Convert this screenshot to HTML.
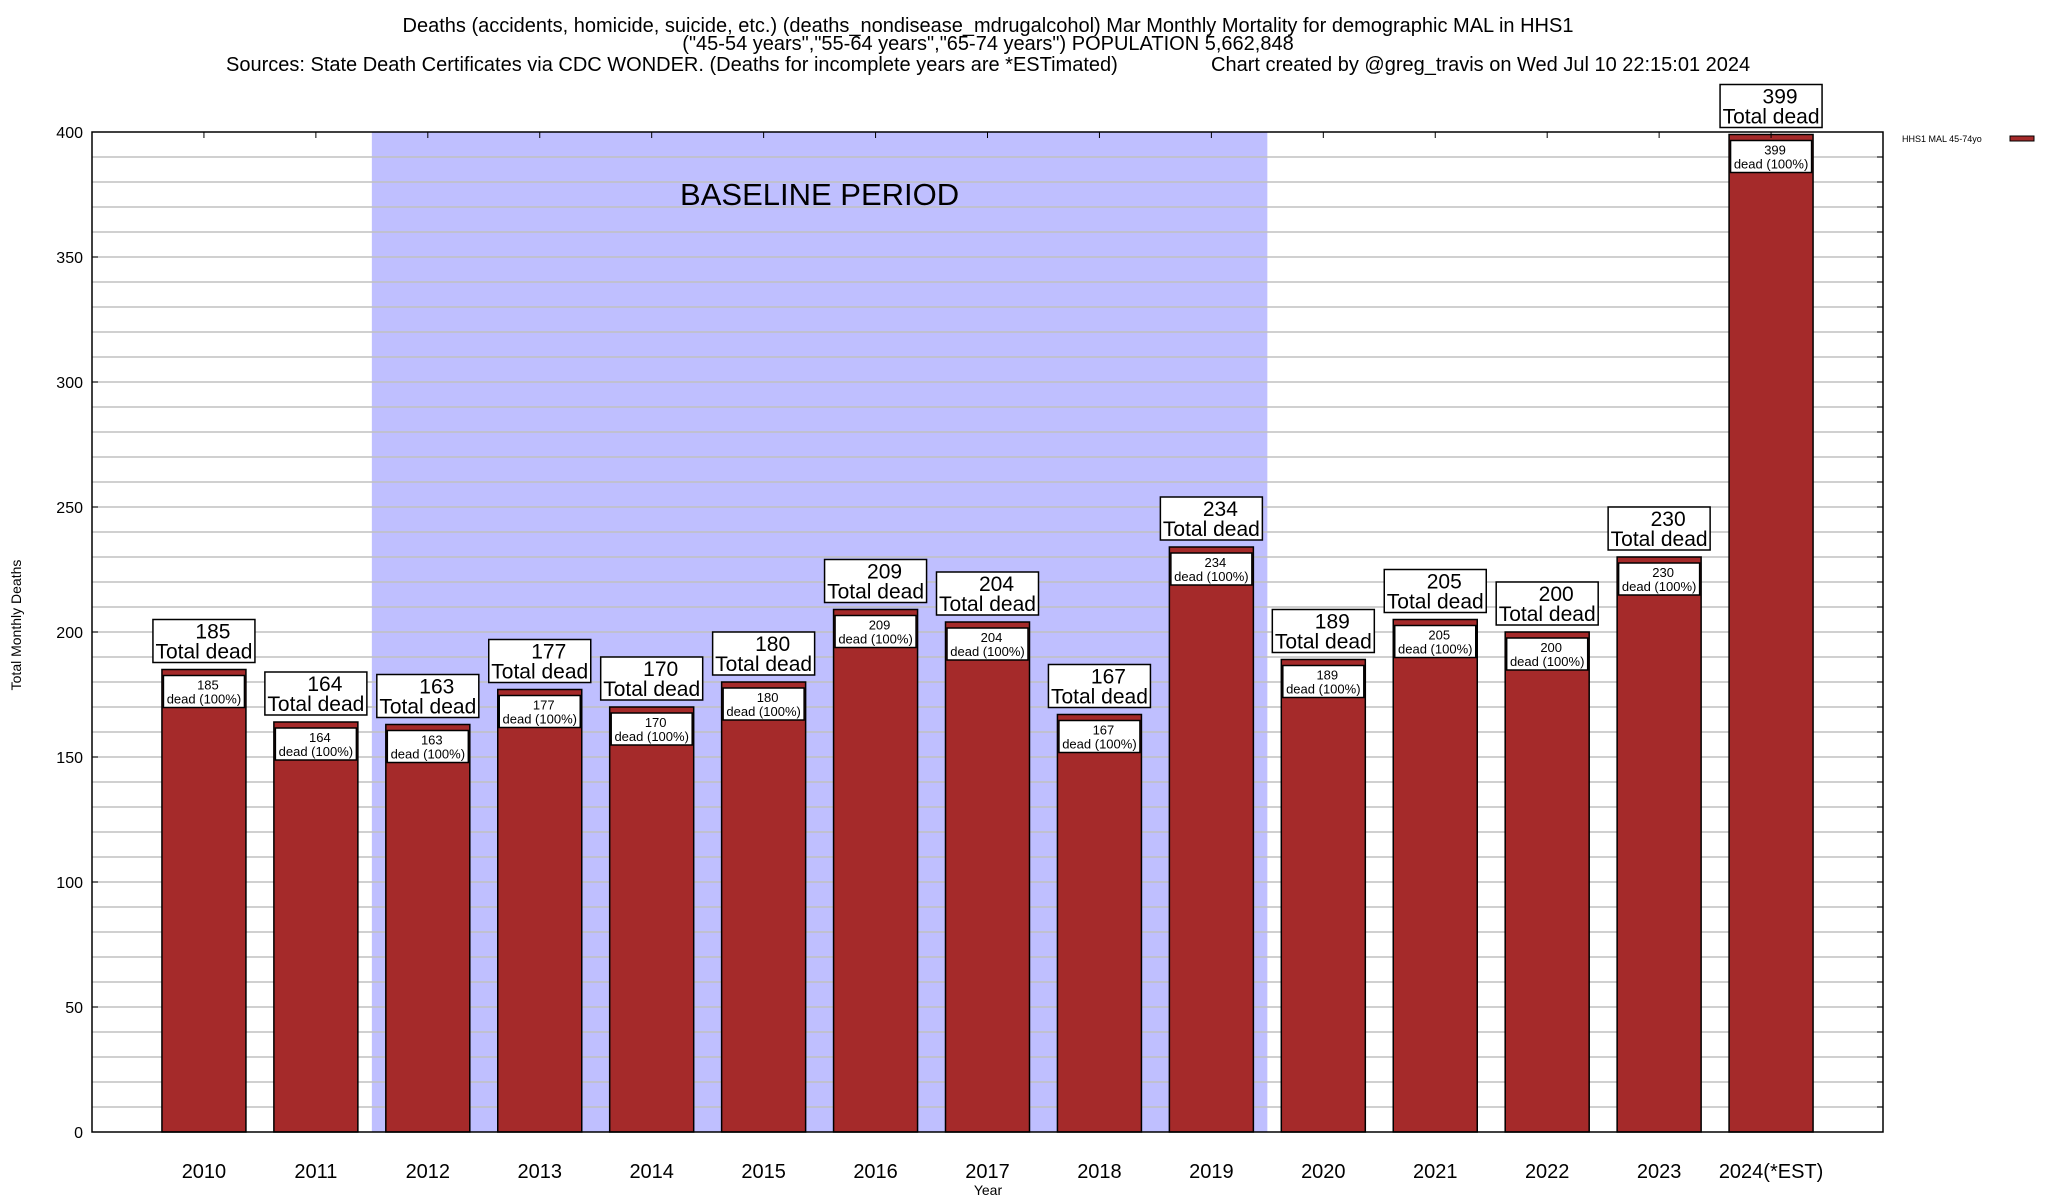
<!DOCTYPE html>
<html><head><meta charset="utf-8"><style>
html,body{margin:0;padding:0;background:#fff;}
svg{display:block;font-family:"Liberation Sans",sans-serif;}
</style></head><body>
<svg id="chart" width="2048" height="1200" viewBox="0 0 2048 1200" xmlns="http://www.w3.org/2000/svg">
<g font-size="20" fill="#000">
<text x="988" y="32" text-anchor="middle">Deaths (accidents, homicide, suicide, etc.) (deaths_nondisease_mdrugalcohol) Mar Monthly Mortality for demographic MAL in HHS1</text>
<text x="988" y="50" text-anchor="middle">("45-54 years","55-64 years","65-74 years") POPULATION 5,662,848</text>
<text x="226" y="71">Sources: State Death Certificates via CDC WONDER. (Deaths for incomplete years are *ESTimated)</text>
<text x="1211" y="71">Chart created by @greg_travis on Wed Jul 10 22:15:01 2024</text>
</g>
<g id="plot"></g>
</svg>
<script>
const categories = ["2010","2011","2012","2013","2014","2015","2016","2017","2018","2019","2020","2021","2022","2023","2024(*EST)"];
const deaths = [185,164,163,177,170,180,209,204,167,234,189,205,200,230,399];
const yTicks = [0,50,100,150,200,250,300,350,400];
const baselineRange = [2012, 2019];

const NS = "http://www.w3.org/2000/svg";
const L = 92, R = 1883, T = 132, B = 1132;
const yMax = 400;
const step = (R - L) / 16;
const barW = 84;
function x(i){ return L + (i + 1) * step; }
function y(v){ return B - (v / yMax) * (B - T); }
const g = document.getElementById('plot');
function mk(tag, attrs, parent){
  const e = document.createElementNS(NS, tag);
  for (const k in attrs) e.setAttribute(k, attrs[k]);
  (parent || g).appendChild(e);
  return e;
}
function txt(s, attrs, parent){ const e = mk('text', attrs, parent); e.textContent = s; return e; }

const bi0 = categories.indexOf(String(baselineRange[0]));
const bi1 = categories.indexOf(String(baselineRange[1]));
const shade = mk('rect', {x: x(bi0) - step/2, y: T, width: (bi1 - bi0 + 1) * step, height: B - T, fill: '#bfbfff'});



for (let v = 10; v < yMax; v += 10) {
  const gl = mk('line', {x1: L, x2: R, y1: y(v), y2: y(v), stroke: '#c0c0c0', 'stroke-width': 1.5});
  
  
  const tk = mk('line', {x1: R - 6, x2: R, y1: y(v), y2: y(v), stroke: '#000', 'stroke-width': 1});
  
  
}
const bt = txt('BASELINE PERIOD', {x: (x(bi0)+x(bi1))/2, y: 205, 'font-size': 31, 'text-anchor': 'middle'});



yTicks.forEach(v => {
  const t = txt(String(v), {x: 83, y: y(v) + 6, 'font-size': 16, 'text-anchor': 'end'});
  
  
  const tk = mk('line', {x1: L, x2: L + 6, y1: y(v), y2: y(v), stroke: '#000'});
  
  
});

categories.forEach((c, i) => {
  const v = deaths[i];
  const cx = x(i);
  const bar = mk('rect', {x: cx - barW/2, y: y(v), width: barW, height: B - y(v), fill: '#a52a2a', stroke: '#000', 'stroke-width': 1.5});
  
  
  const ib = mk('rect', {x: cx - 40.5, y: y(v) + 6, width: 81, height: 32, fill: '#fff', stroke: '#000', 'stroke-width': 1.5});
  
  
  const t1 = txt(String(v), {x: cx + 4, y: y(v) + 20, 'font-size': 13, 'text-anchor': 'middle'});
  
  
  const t2 = txt('dead (100%)', {x: cx, y: y(v) + 34, 'font-size': 13, 'text-anchor': 'middle'});
  
  
  const ob = mk('rect', {x: cx - 51, y: y(v) - 50, width: 102, height: 43, fill: '#fff', stroke: '#000', 'stroke-width': 1.5});
  
  
  const o1 = txt(String(v), {x: cx + 9, y: y(v) - 31, 'font-size': 21, 'text-anchor': 'middle'});
  
  
  const o2 = txt('Total dead', {x: cx, y: y(v) - 11, 'font-size': 21, 'text-anchor': 'middle'});
  
  
  const tk = mk('line', {x1: cx, x2: cx, y1: T, y2: T + 6, stroke: '#000'});
  
  
  const xl = txt(c, {x: cx, y: 1178, 'font-size': 20, 'text-anchor': 'middle'});
  
  
});

const fr = mk('rect', {x: L, y: T, width: R - L, height: B - T, fill: 'none', stroke: '#000', 'stroke-width': 1.5});



const yt = txt('Total Monthly Deaths', {x: 0, y: 0, 'font-size': 14, 'text-anchor': 'middle', transform: 'translate(21,625) rotate(-90)'});


const xt = txt('Year', {x: 988, y: 1195, 'font-size': 14, 'text-anchor': 'middle'});



const lt = txt('HHS1 MAL 45-74yo', {x: 1902, y: 142, 'font-size': 9});


const ls = mk('rect', {x: 2010, y: 136, width: 24, height: 5, fill: '#a52a2a', stroke: '#000', 'stroke-width': 1});


</script>
</body></html>
